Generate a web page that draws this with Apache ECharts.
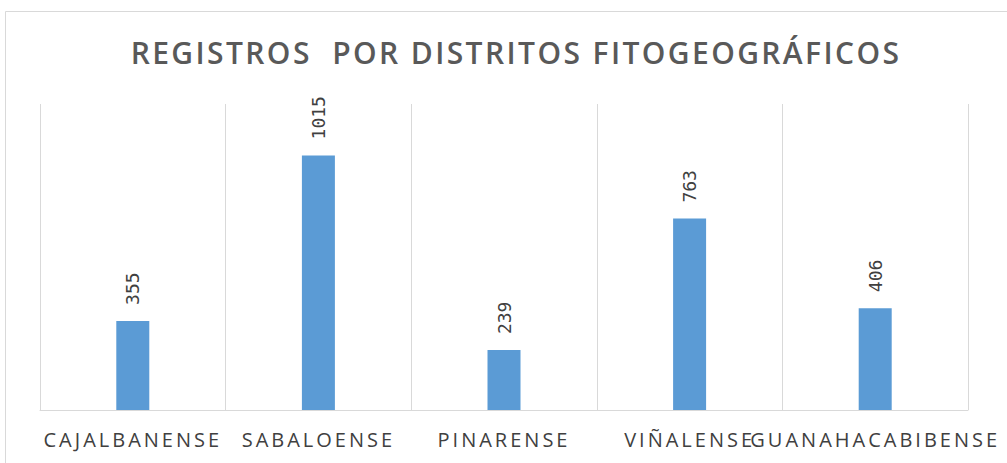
<!DOCTYPE html>
<html>
<head>
<meta charset="utf-8">
<script src="https://cdn.jsdelivr.net/npm/echarts@6/dist/echarts.min.js"></script>
<style>
  html, body { margin: 0; padding: 0; background: #fff; }
  #main { width: 1007px; height: 463px; }
  /* espaciado de letras como en la figura original */
  #main text[style*="30px"] { letter-spacing: 2.4px; }
  #main text[style*="20px"] { letter-spacing: 3px; }
</style>
</head>
<body>
<div id="main"></div>
<script>
// datos
var distritos = ['CAJALBANENSE', 'SABALOENSE', 'PINARENSE', 'VIÑALENSE', 'GUANAHACABIBENSE'];
var registros = [355, 1015, 239, 763, 406];
var titulo = 'REGISTROS  POR DISTRITOS FITOGEOGRÁFICOS';

var myChart = echarts.init(document.getElementById('main'), null, { renderer: 'svg' });

var option = {
    backgroundColor: '#fff',
    animation: false,
    title: {
        text: titulo,
        left: 516,
        top: 37,
        padding: 0,
        textAlign: 'center',
        textStyle: {
            fontFamily: 'Open Sans',
            fontSize: 30,
            fontWeight: 600,
            color: '#595959'
        }
    },
    graphic: [{
        type: 'rect',
        shape: { x: 5.5, y: 11.5, width: 1010, height: 460 },
        style: { fill: 'none', stroke: '#d9d9d9', lineWidth: 1 },
        silent: true
    }],
    grid: { left: 40, right: 39, top: 104, bottom: 53 },
    xAxis: {
        type: 'category',
        data: distritos,
        boundaryGap: true,
        axisLine: { lineStyle: { color: '#d9d9d9', width: 1 } },
        axisTick: { show: false },
        splitLine: { show: true, lineStyle: { color: '#d9d9d9', width: 1 } },
        axisLabel: {
            interval: 0,
            margin: 19,
            fontFamily: 'Open Sans',
            fontSize: 20,
            color: '#404040'
        }
    },
    yAxis: {
        type: 'value',
        min: 0,
        max: 1220,
        show: false,
        splitLine: { show: false }
    },
    series: [{
        type: 'bar',
        data: registros,
        barWidth: 33,
        itemStyle: { color: '#5b9bd5' },
        label: {
            show: true,
            position: 'top',
            rotate: 90,
            align: 'left',
            verticalAlign: 'middle',
            distance: 16,
            fontFamily: 'DejaVu Sans Mono',
            fontSize: 18,
            color: '#404040'
        }
    }]
};

myChart.setOption(option);
</script>
</body>
</html>
